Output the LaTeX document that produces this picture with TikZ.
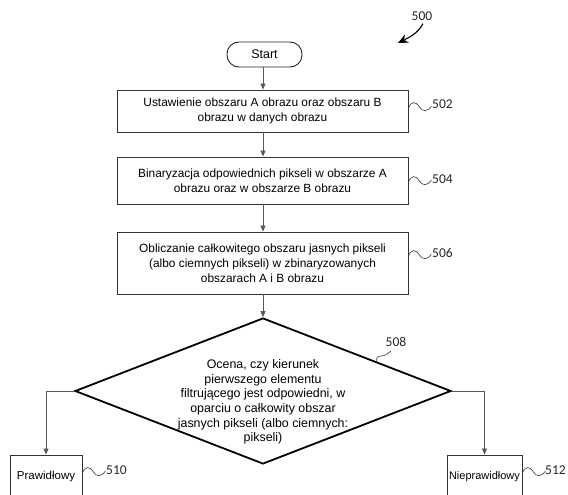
\documentclass[tikz,border=0pt]{standalone}
\usepackage{fontspec}
\setmainfont{Liberation Sans}
\newfontfamily\numfont{Carlito}
\usetikzlibrary{shapes.geometric,arrows.meta}
\begin{document}
\begin{tikzpicture}[x=1pt,y=-1pt,
  box/.style={draw=black!80, line width=0.9pt, minimum width=291pt, align=center,
    font=\fontsize{11.9}{14.8}\selectfont, inner sep=0pt},
  smallbox/.style={draw=black!80, line width=0.9pt, inner sep=0pt},
  boxtext/.style={inner sep=0pt, font=\fontsize{11.5}{13}\selectfont},
  conn/.style={draw=black!65, line width=0.7pt, -{Triangle[length=6pt,width=5pt]}},
  reflabel/.style={font=\fontsize{13.5}{14}\selectfont\numfont, inner sep=0pt, text=black!85},
  sq/.style={draw=black!80, line width=0.6pt},
  squig/.pic={\draw[sq] (0,0) .. controls (3,-7) and (7,-7) .. (11,-1) .. controls (14,4) and (19,4) .. (23,-2);}
]
\useasboundingbox (0,0) rectangle (568,495);
\clip (0,0) rectangle (568,495);

% start
\node[draw=black!85, line width=0.9pt, rounded corners=12pt, minimum width=75pt, minimum height=25pt,
  inner sep=0pt, font=\fontsize{12.5}{14}\selectfont] (start) at (264.5,54.5) {Start};

% process boxes
\node[box, minimum height=42pt] (b502) at (262.5,111) {Ustawienie obszaru A obrazu oraz obszaru B\\obrazu w danych obrazu};
\node[box, minimum height=47pt] (b504) at (262.5,180.5) {Binaryzacja odpowiednich pikseli w obszarze A\\obrazu oraz w obszarze B obrazu};
\node[box, minimum height=62pt] (b506) at (262.5,263) {Obliczanie całkowitego obszaru jasnych pikseli\\(albo ciemnych pikseli) w zbinaryzowanych\\obszarach A i B obrazu};

% decision
\node[diamond, draw=black, line width=1.8pt, minimum width=376pt, minimum height=146pt, inner sep=0pt] (d508) at (263,391) {};
\node[align=center, inner sep=0pt, font=\fontsize{12.4}{14.7}\selectfont] (d508t) at (263,402)
  {Ocena, czy kierunek\\pierwszego elementu\\filtrującego jest odpowiedni, w\\oparciu o całkowity obszar\\jasnych pikseli (albo ciemnych:\\pikseli)};

% outcome boxes
\node[smallbox, minimum width=72pt, minimum height=50pt] (b510) at (46,480) {};
\node[boxtext] (t510) at (46,477) {Prawidłowy};
\node[smallbox, minimum width=75pt, minimum height=50pt] (b512) at (484.5,480) {};
\node[boxtext, font=\fontsize{11}{13}\selectfont] (t512) at (484.5,477) {Nieprawidłowy};

% connectors
\draw[conn] (start.south -| 263,0) -- (b502.north -| 263,0);
\draw[conn] (b502.south -| 263,0) -- (b504.north -| 263,0);
\draw[conn] (b504.south -| 263,0) -- (b506.north -| 263,0);
\draw[conn] (b506.south -| 263,0) -- (d508.north);
\draw[conn] (d508.west) -| (b510.north);
\draw[conn] (d508.east) -| (b512.north);

% reference labels
\node[reflabel, anchor=west] (r502) at (432,104) {502};
\node[reflabel, anchor=west] (r504) at (432,179) {504};
\node[reflabel, anchor=west] (r506) at (432,253) {506};
\node[reflabel] (r508) at (396,342) {508};
\node[reflabel, anchor=west] (r510) at (106,470) {510};
\node[reflabel, anchor=west] (r512) at (545,470) {512};
\node[reflabel] (r500) at (422,16) {500};

\pic at ([yshift=3pt]b502.east) {squig};
\pic at ([yshift=-1.5pt]b504.east) {squig};
\pic at ([yshift=7pt]b506.east) {squig};
\pic at ([yshift=7pt]b510.east) {squig};
\pic at ([yshift=7pt]b512.east) {squig};

\coordinate (e508) at (377,362);
\draw[sq] (e508) .. controls (376,358) and (377,356) .. (381,356) .. controls (385,356) and (387,354) .. (391,351);

\coordinate (a500) at (398,43);
\draw[line width=1.1pt, -{Stealth[length=10pt,width=9pt]}] (r500.south) ++(1,3) .. controls (418,33) and (410,37) .. (a500);
\end{tikzpicture}
\end{document}
